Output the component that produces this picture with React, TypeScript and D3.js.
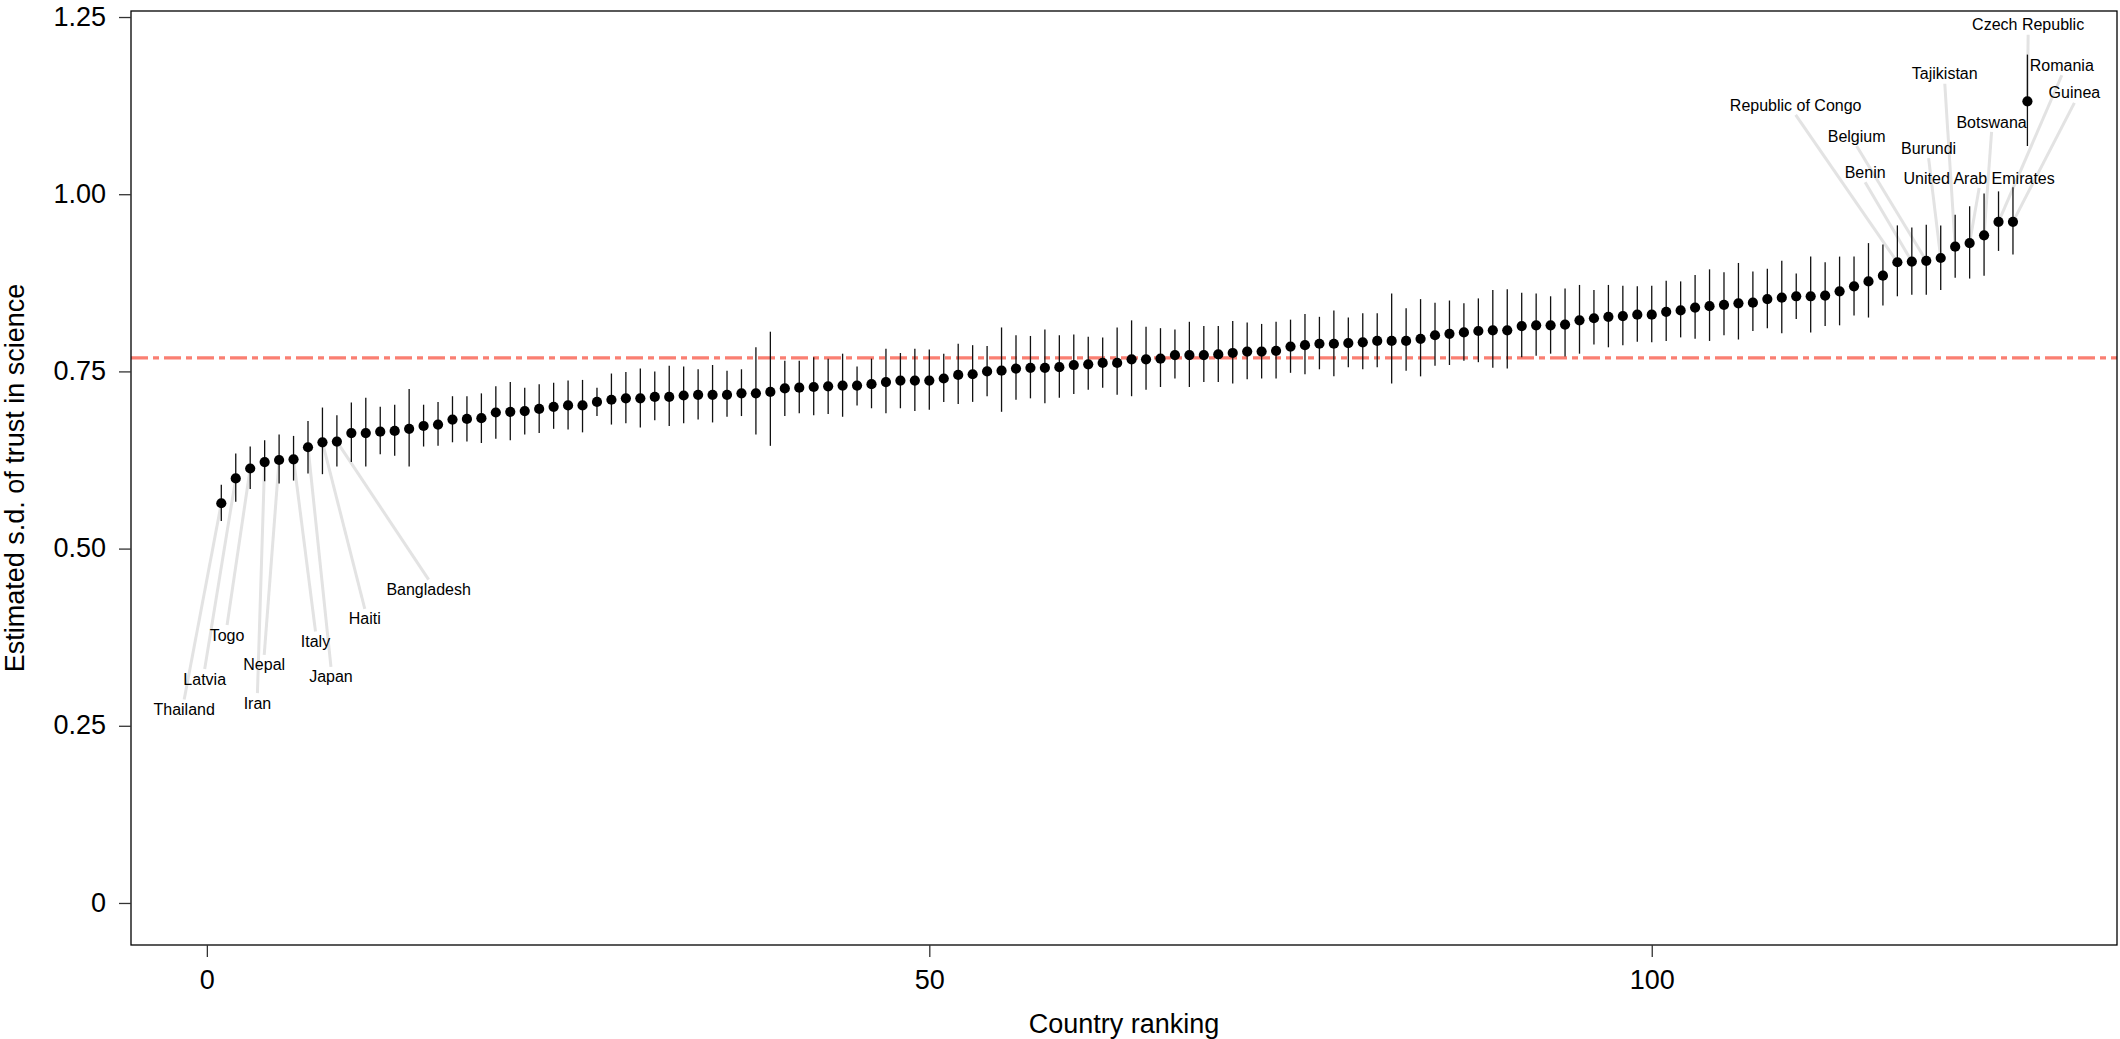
import { useRef, useEffect } from 'react';
import * as d3 from 'd3';

// estimated s.d. of trust in science, ranked 1..126
const estimates = [
  0.564, 0.599, 0.613, 0.622, 0.625, 0.626, 0.643, 0.650, 0.651, 0.663,
  0.663, 0.665, 0.666, 0.669, 0.673, 0.675, 0.682, 0.683, 0.684, 0.692,
  0.693, 0.694, 0.697, 0.700, 0.702, 0.702, 0.707, 0.710, 0.712, 0.712,
  0.714, 0.714, 0.716, 0.717, 0.717, 0.717, 0.719, 0.719, 0.721, 0.726,
  0.727, 0.728, 0.729, 0.730, 0.730, 0.732, 0.735, 0.737, 0.737, 0.737,
  0.740, 0.745, 0.746, 0.750, 0.751, 0.754, 0.755, 0.755, 0.756, 0.759,
  0.760, 0.762, 0.762, 0.767, 0.767, 0.768, 0.773, 0.773, 0.773, 0.774,
  0.776, 0.778, 0.778, 0.779, 0.785, 0.787, 0.789, 0.789, 0.790, 0.791,
  0.793, 0.793, 0.793, 0.796, 0.801, 0.803, 0.805, 0.807, 0.808, 0.808,
  0.814, 0.815, 0.815, 0.816, 0.822, 0.825, 0.827, 0.828, 0.830, 0.830,
  0.834, 0.836, 0.840, 0.842, 0.844, 0.846, 0.847, 0.852, 0.854, 0.856,
  0.856, 0.857, 0.863, 0.870, 0.877, 0.885, 0.904, 0.905, 0.906, 0.910,
  0.926, 0.931, 0.942, 0.961, 0.961, 1.131,
];

const lower = [
  0.539, 0.566, 0.584, 0.595, 0.592, 0.596, 0.606, 0.605, 0.616, 0.622,
  0.616, 0.633, 0.631, 0.616, 0.644, 0.645, 0.650, 0.651, 0.649, 0.655,
  0.653, 0.661, 0.663, 0.669, 0.668, 0.664, 0.687, 0.675, 0.677, 0.671,
  0.681, 0.673, 0.677, 0.682, 0.678, 0.686, 0.687, 0.661, 0.645, 0.687,
  0.691, 0.688, 0.690, 0.686, 0.702, 0.698, 0.691, 0.698, 0.694, 0.696,
  0.707, 0.704, 0.707, 0.715, 0.693, 0.710, 0.712, 0.705, 0.713, 0.718,
  0.724, 0.727, 0.717, 0.715, 0.724, 0.728, 0.740, 0.728, 0.735, 0.735,
  0.733, 0.739, 0.740, 0.740, 0.748, 0.746, 0.753, 0.743, 0.756, 0.753,
  0.756, 0.733, 0.751, 0.743, 0.758, 0.759, 0.765, 0.763, 0.755, 0.754,
  0.770, 0.772, 0.775, 0.771, 0.775, 0.788, 0.784, 0.787, 0.792, 0.791,
  0.793, 0.798, 0.796, 0.793, 0.801, 0.795, 0.807, 0.811, 0.804, 0.824,
  0.805, 0.814, 0.815, 0.829, 0.826, 0.843, 0.856, 0.858, 0.858, 0.865,
  0.882, 0.881, 0.885, 0.920, 0.915, 1.068,
];

const upper = [
  0.590, 0.634, 0.644, 0.653, 0.661, 0.659, 0.680, 0.699, 0.688, 0.706,
  0.713, 0.700, 0.703, 0.725, 0.703, 0.707, 0.715, 0.715, 0.719, 0.729,
  0.735, 0.727, 0.732, 0.734, 0.737, 0.738, 0.727, 0.747, 0.749, 0.754,
  0.750, 0.758, 0.757, 0.753, 0.759, 0.751, 0.753, 0.784, 0.806, 0.765,
  0.765, 0.770, 0.768, 0.775, 0.757, 0.768, 0.782, 0.776, 0.782, 0.781,
  0.775, 0.789, 0.787, 0.786, 0.812, 0.801, 0.800, 0.809, 0.801, 0.802,
  0.799, 0.798, 0.812, 0.822, 0.813, 0.811, 0.809, 0.820, 0.814, 0.814,
  0.821, 0.819, 0.817, 0.820, 0.823, 0.831, 0.827, 0.836, 0.826, 0.832,
  0.832, 0.860, 0.839, 0.852, 0.847, 0.850, 0.846, 0.853, 0.865, 0.866,
  0.861, 0.860, 0.856, 0.867, 0.872, 0.865, 0.872, 0.871, 0.870, 0.871,
  0.878, 0.877, 0.886, 0.894, 0.890, 0.903, 0.891, 0.895, 0.906, 0.888,
  0.912, 0.904, 0.912, 0.912, 0.931, 0.929, 0.956, 0.953, 0.957, 0.956,
  0.971, 0.983, 1.001, 1.004, 1.010, 1.197,
];

const meanLine = 0.769;

// labelled countries: rank, name, label anchor (in data units)
const labelRanks = [1, 2, 3, 4, 5, 6, 7, 8, 9, 117, 118, 119, 120, 121, 122, 123, 124, 125, 126];
const labelNames = [
  'Thailand', 'Latvia', 'Togo', 'Iran', 'Nepal', 'Italy', 'Japan', 'Haiti', 'Bangladesh',
  'Republic of Congo', 'Benin', 'Belgium', 'Burundi', 'Tajikistan', 'United Arab Emirates',
  'Botswana', 'Romania', 'Guinea', 'Czech Republic',
];
const labelX = [-1.57, -0.15, 1.40, 3.50, 3.97, 7.52, 8.59, 10.93, 15.35,
  109.96, 114.77, 114.18, 119.16, 120.28, 122.66, 123.52, 128.38, 129.25, 126.05];
const labelY = [0.273, 0.316, 0.378, 0.282, 0.336, 0.369, 0.319, 0.401, 0.442,
  1.126, 1.031, 1.082, 1.065, 1.170, 1.023, 1.102, 1.182, 1.143, 1.239];

const yTicks = [0, 0.25, 0.5, 0.75, 1.0, 1.25];
const xTicks = [0, 50, 100];

const FONT = '"Liberation Sans", Arial, Helvetica, sans-serif';

function App() {
  const ref = useRef(null);

  useEffect(() => {
    d3.select(ref.current).selectAll('*').remove();
    const svg = d3.select(ref.current);

    const left = 131, right = 2117, top = 11, bottom = 945;
    const x = d3.scaleLinear().domain([-5.25, 132.2]).range([left, right]);
    const y = d3.scaleLinear().domain([-0.0593, 1.2585]).range([bottom, top]);

    const data = estimates.map((v, i) => ({ rank: i + 1, v, lo: lower[i], hi: upper[i] }));

    // reference line
    svg.append('line')
      .attr('x1', left).attr('x2', right)
      .attr('y1', y(meanLine)).attr('y2', y(meanLine))
      .attr('stroke', '#FA7F72')
      .attr('stroke-width', 3.2)
      .attr('stroke-dasharray', '17,5,6,5');

    // label connectors
    const labels = labelRanks.map((r, i) => ({
      rank: r, name: labelNames[i], lx: x(labelX[i]), ly: y(labelY[i]),
      px: x(r), py: y(estimates[r - 1]),
    }));
    svg.append('g').selectAll('line')
      .data(labels)
      .enter().append('line')
      .attr('x1', d => d.px).attr('y1', d => d.py)
      .attr('x2', d => d.lx)
      .attr('y2', d => d.ly > d.py ? d.ly - 10 : d.ly + 10)
      .attr('stroke', '#e3e3e3')
      .attr('stroke-width', 3);

    // error bars
    svg.append('g').selectAll('line')
      .data(data)
      .enter().append('line')
      .attr('x1', d => x(d.rank)).attr('x2', d => x(d.rank))
      .attr('y1', d => y(d.lo)).attr('y2', d => y(d.hi))
      .attr('stroke', '#111')
      .attr('stroke-width', 1.3);

    // points
    svg.append('g').selectAll('circle')
      .data(data)
      .enter().append('circle')
      .attr('cx', d => x(d.rank)).attr('cy', d => y(d.v))
      .attr('r', 5.1)
      .attr('fill', '#000');

    // labels
    svg.append('g').selectAll('text')
      .data(labels)
      .enter().append('text')
      .attr('x', d => d.lx).attr('y', d => d.ly)
      .attr('dy', '0.35em')
      .attr('text-anchor', 'middle')
      .style('font-family', FONT)
      .style('font-size', '16px')
      .text(d => d.name);

    // frame
    svg.append('rect')
      .attr('x', left).attr('y', top)
      .attr('width', right - left).attr('height', bottom - top)
      .attr('fill', 'none')
      .attr('stroke', '#000')
      .attr('stroke-width', 1.3);

    // axes
    const yAxis = svg.append('g')
      .attr('transform', `translate(${left},0)`)
      .call(d3.axisLeft(y).tickValues(yTicks).tickSize(12).tickPadding(13)
        .tickFormat(d => d === 0 ? '0' : d3.format('.2f')(d)));
    yAxis.select('.domain').remove();
    yAxis.selectAll('line').attr('stroke', '#333').attr('stroke-width', 1.3);
    yAxis.selectAll('text')
      .attr('dy', '0.3em')
      .attr('fill', '#000')
      .style('font-family', FONT)
      .style('font-size', '27px');

    const xAxis = svg.append('g')
      .attr('transform', `translate(0,${bottom})`)
      .call(d3.axisBottom(x).tickValues(xTicks).tickSize(12));
    xAxis.select('.domain').remove();
    xAxis.selectAll('line').attr('stroke', '#333').attr('stroke-width', 1.3);
    xAxis.selectAll('text')
      .attr('y', 44).attr('dy', 0)
      .attr('fill', '#000')
      .style('font-family', FONT)
      .style('font-size', '27px');

    // axis titles
    svg.append('text')
      .attr('x', (left + right) / 2).attr('y', 1033)
      .attr('text-anchor', 'middle')
      .style('font-family', FONT)
      .style('font-size', '27px')
      .text('Country ranking');

    svg.append('text')
      .attr('transform', `translate(24,${(top + bottom) / 2}) rotate(-90)`)
      .attr('text-anchor', 'middle')
      .style('font-family', FONT)
      .style('font-size', '27px')
      .text('Estimated s.d. of trust in science');
  }, []);

  return (
    <svg ref={ref} width={2120} height={1039}
      style={{ position: 'absolute', left: 0, top: 0, display: 'block', background: '#fff' }} />
  );
}

export default App;
